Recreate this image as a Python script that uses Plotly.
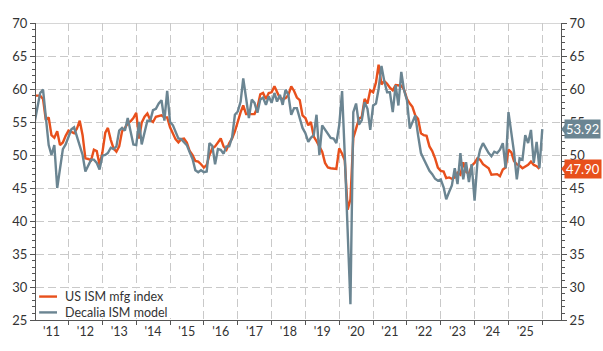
import pandas as pd
import plotly.graph_objects as go

# ---------------- data (monthly) ----------------
ism = [
    59.0, 59.0, 59.0, 58.5, 55.3, 55.7, 53.0, 52.6, 53.6, 51.5, 51.9, 52.9,   # 2011
    53.7, 53.5, 53.3, 54.0, 55.2, 53.0, 49.5, 49.4, 49.2, 50.8, 50.6, 48.5,   # 2012
    50.4, 53.4, 54.1, 52.3, 51.0, 50.5, 51.3, 53.6, 54.1, 54.8, 55.1, 55.6,   # 2013
    56.4, 52.5, 54.9, 55.8, 56.3, 55.3, 55.0, 55.8, 55.9, 56.0, 55.7, 55.7,   # 2014
    54.2, 53.3, 52.4, 51.9, 52.4, 52.5, 51.9, 50.6, 50.0, 49.1, 49.0, 48.6,   # 2015
    48.1, 48.5, 50.0, 51.0, 51.3, 51.9, 52.5, 51.3, 50.8, 51.8, 52.5, 53.6,   # 2016
    55.1, 56.5, 57.5, 56.2, 56.2, 56.2, 56.2, 57.2, 59.2, 59.4, 58.5, 59.4,   # 2017
    59.5, 60.4, 59.5, 58.6, 58.5, 58.6, 59.1, 60.4, 59.7, 58.7, 58.3, 56.0,   # 2018
    55.6, 54.5, 55.0, 52.8, 52.1, 51.2, 50.5, 48.8, 48.1, 48.0, 48.0, 47.9,   # 2019
    51.0, 50.2, 49.2, 41.7, 43.3, 52.6, 54.0, 55.5, 55.8, 58.5, 57.8, 59.8,   # 2020
    59.5, 61.0, 63.7, 60.7, 61.2, 60.8, 60.2, 59.8, 60.6, 60.6, 60.5, 59.9,   # 2021
    58.5, 57.8, 57.3, 56.0, 55.5, 53.3, 53.0, 52.9, 51.3, 50.6, 49.5, 48.1,   # 2022
    47.6, 47.5, 46.5, 46.6, 46.4, 46.6, 47.3, 47.0, 48.9, 47.5, 47.1, 48.4,   # 2023
    48.8, 49.5, 49.3, 48.6, 48.3, 48.0, 47.0, 47.1, 47.1, 46.8, 47.8, 48.1,   # 2024
    50.8, 50.4, 49.1, 48.6, 48.4, 48.0, 48.3, 48.5, 49.0, 48.5, 48.3, 47.9,   # 2025
]

model = [
    55.0, 57.5, 59.4, 59.9, 55.3, 51.5, 50.0, 51.5, 45.0, 47.7, 50.9, 51.6,   # 2011
    52.7, 53.9, 54.2, 52.8, 51.6, 50.0, 47.5, 48.4, 49.3, 49.3, 48.8, 47.8,   # 2012
    49.9, 50.0, 50.3, 51.1, 50.9, 51.3, 53.7, 54.1, 53.7, 55.6, 53.4, 51.6,   # 2013
    51.5, 55.0, 51.6, 53.4, 55.2, 55.2, 56.8, 57.0, 57.8, 58.3, 55.2, 59.7,   # 2014
    55.0, 54.5, 53.4, 52.5, 52.4, 52.0, 51.5, 50.4, 49.4, 47.7, 47.4, 47.7,   # 2015
    47.4, 47.5, 51.8, 51.4, 48.6, 50.9, 50.8, 50.2, 51.3, 51.3, 52.7, 56.1,   # 2016
    56.6, 58.1, 61.6, 58.6, 55.6, 58.4, 57.9, 56.4, 58.4, 58.7, 57.6, 58.9,   # 2017
    57.9, 59.4, 58.1, 59.1, 57.6, 59.9, 59.1, 56.1, 57.1, 57.1, 55.5, 54.1,   # 2018
    53.3, 52.0, 52.6, 53.0, 56.1, 50.0, 54.5, 53.8, 53.1, 52.6, 52.5, 51.8,   # 2019
    54.5, 59.7, 50.0, 38.5, 27.4, 56.5, 57.8, 54.6, 55.3, 58.0, 57.0, 53.8,   # 2020
    57.5, 57.8, 60.0, 63.5, 61.2, 59.5, 59.5, 56.5, 60.6, 57.5, 62.6, 59.8,   # 2021
    58.3, 54.0, 55.0, 56.0, 53.0, 50.3, 49.4, 48.4, 47.6, 47.1, 46.4, 46.1,   # 2022
    46.3, 45.1, 43.3, 44.4, 45.4, 48.0, 45.6, 50.3, 46.3, 48.9, 45.9, 48.6,   # 2023
    43.1, 49.0, 50.8, 51.8, 51.0, 50.3, 49.8, 50.5, 50.3, 50.8, 51.8, 48.0,   # 2024
    56.5, 53.5, 50.5, 46.3, 49.5, 49.3, 53.0, 51.8, 53.8, 48.8, 52.0, 48.0,   # 2025
    53.92,                                                                    # 2026
]

dates_ism = pd.date_range("2011-01-01", periods=len(ism), freq="MS")
dates_model = pd.date_range("2011-01-01", periods=len(model), freq="MS")

years = list(range(2011, 2026))
year_labels = ["'" + str(y)[2:] for y in years]
y_ticks = list(range(25, 71, 5))

series_names = ["US ISM mfg index", "Decalia ISM model"]
ORANGE = "#E8501C"
GREY = "#6B8592"
GRID = "#C9C9C9"
AXIS = "#555555"
TXT = "#333333"
FONT = "Lato"

fig = go.Figure()
fig.add_trace(go.Scatter(x=dates_ism, y=ism, mode="lines", name=series_names[0],
                         line=dict(color=ORANGE, width=2.4), yaxis="y", showlegend=False))
fig.add_trace(go.Scatter(x=dates_model, y=model, mode="lines", name=series_names[1],
                         line=dict(color=GREY, width=2.4), yaxis="y2", showlegend=False))

mid_year = [f"{y}-07-01" for y in years]
jan_first = [f"{y}-01-01" for y in range(2012, 2027)]

fig.update_layout(
    width=603, height=351,
    margin=dict(l=29, r=42, t=23, b=27),
    paper_bgcolor="white", plot_bgcolor="white",
    font=dict(family=FONT, size=13, color=TXT),
    xaxis=dict(
        range=["2011-01-15", "2026-07-22"],
        tickmode="array", tickvals=mid_year, ticktext=year_labels,
        showgrid=False, ticks="", showline=True, linecolor=AXIS, linewidth=1,
        tickfont=dict(size=12.5, color=TXT),
        minor=dict(tickmode="array", tickvals=jan_first, showgrid=True,
                   gridcolor=GRID, griddash="8px,4px", gridwidth=1,
                   ticks="outside", ticklen=4, tickcolor=AXIS),
        zeroline=False,
    ),
    yaxis=dict(
        range=[25, 70], tickmode="array", tickvals=y_ticks,
        showgrid=True, gridcolor=GRID, griddash="8px,4px", gridwidth=1,
        showline=True, linecolor=AXIS, linewidth=1,
        ticks="outside", ticklen=5, tickcolor=AXIS,
        minor=dict(dtick=1, ticks="outside", ticklen=3, tickcolor=AXIS),
        tickfont=dict(size=13, color=TXT), zeroline=False,
    ),
    yaxis2=dict(
        range=[25, 70], tickmode="array", tickvals=y_ticks,
        overlaying="y", side="right", showgrid=False,
        showline=True, linecolor=AXIS, linewidth=1,
        ticks="outside", ticklen=5, tickcolor=AXIS,
        minor=dict(dtick=1, ticks="outside", ticklen=3, tickcolor=AXIS),
        tickfont=dict(size=13, color=TXT), zeroline=False,
    ),
)

# top border (solid light grey)
fig.add_shape(type="line", xref="paper", yref="y", x0=0, x1=1, y0=70, y1=70,
              line=dict(color=GRID, width=1.5), layer="above")

# manual legend with white background
fig.add_shape(type="rect", xref="paper", yref="y", x0=0.003, x1=0.27, y0=25.3, y1=29.8,
              fillcolor="white", line=dict(width=0), layer="above")
leg_y = [28.55, 26.15]
for name, col, yy in zip(series_names, [ORANGE, GREY], leg_y):
    fig.add_shape(type="line", xref="paper", yref="y", x0=0.006, x1=0.040, y0=yy, y1=yy,
                  line=dict(color=col, width=2.4), layer="above")
    fig.add_annotation(xref="paper", yref="y", x=0.052, y=yy, text=name, showarrow=False,
                       xanchor="left", yanchor="middle", font=dict(size=12.5, color=TXT))

# end-value labels on the right axis
last_vals = [(ism[-1], ORANGE), (model[-1], GREY)]
for val, col in last_vals:
    fig.add_annotation(xref="paper", yref="y", x=1, y=val, text=f"{val:.2f}",
                       showarrow=False, xanchor="left", yanchor="middle", xshift=3,
                       bgcolor=col, font=dict(size=13, color="white"), borderpad=1)
    dx = 5 / 532
    fig.add_shape(type="path", xref="paper", yref="y",
                  path=f"M {1 + 0.2/532},{val} L {1 + dx},{val + 0.9} L {1 + dx},{val - 0.9} Z",
                  fillcolor=col, line=dict(width=0), layer="above")

fig.write_html("out.html")
